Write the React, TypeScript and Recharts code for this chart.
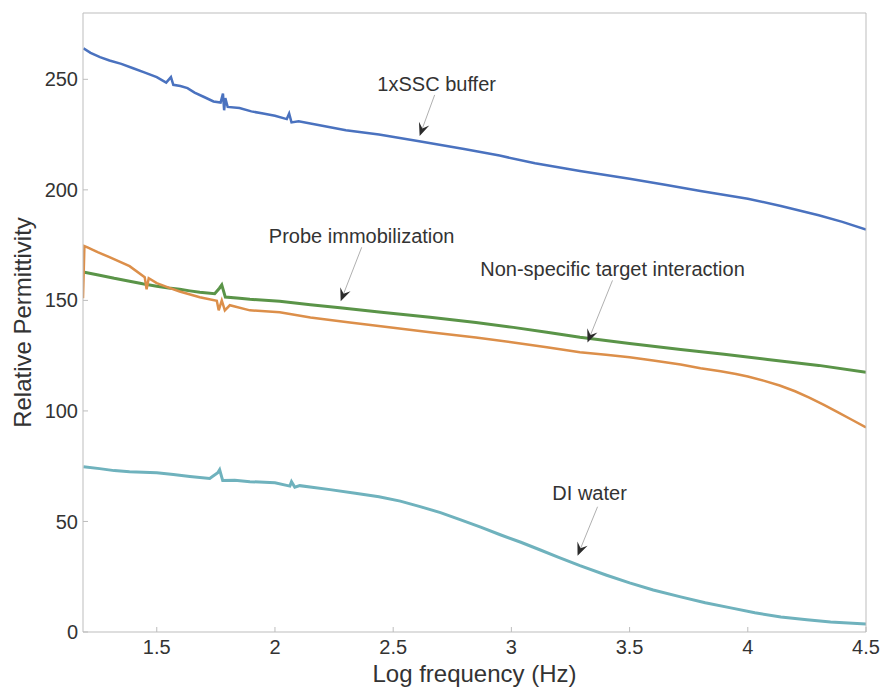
import { LineChart, Line, XAxis, YAxis, ReferenceDot } from "recharts";

// axis ticks
const xTicks = [1.5, 2, 2.5, 3, 3.5, 4, 4.5];
const yTicks = [0, 50, 100, 150, 200, 250];

// [log frequency, relative permittivity]
const sscBuffer: [number, number][] = [
  [1.19, 264], [1.22, 262], [1.26, 260], [1.3, 258.5], [1.35, 257], [1.4, 255],
  [1.45, 253], [1.5, 251], [1.54, 248.5], [1.56, 251], [1.57, 247.5], [1.6, 247],
  [1.63, 246], [1.66, 244], [1.7, 242], [1.74, 240], [1.77, 239.5], [1.78, 243.5],
  [1.785, 236], [1.79, 241.5], [1.8, 237.5], [1.85, 237], [1.9, 235.5], [1.95, 234.5],
  [2.0, 233.5], [2.05, 232], [2.06, 234.5], [2.07, 230.5], [2.1, 231], [2.2, 229],
  [2.3, 227], [2.44, 225], [2.61, 222], [2.8, 218.5], [2.95, 215.5], [3.1, 212],
  [3.29, 208.5], [3.5, 205], [3.65, 202.3], [3.8, 199.5], [4.0, 196], [4.14, 192.7],
  [4.3, 188.5], [4.4, 185.5], [4.5, 182],
];

const probeImmob: [number, number][] = [
  [1.194, 162.7], [1.258, 161.4], [1.32, 160], [1.385, 158.7], [1.44, 157.5],
  [1.5, 156.4], [1.55, 155.6], [1.597, 155], [1.64, 154.3], [1.682, 153.7],
  [1.745, 153], [1.765, 155.5], [1.775, 157], [1.79, 151.5], [1.85, 151],
  [1.894, 150.5], [2.02, 149.6], [2.15, 148], [2.275, 146.7], [2.45, 144.6],
  [2.656, 142.4], [2.85, 140], [3.008, 137.8], [3.15, 135.6], [3.29, 133.3],
  [3.5, 130.5], [3.716, 127.8], [3.9, 125.6], [4.084, 123.3], [4.3, 120.6],
  [4.5, 117.5],
];

const nonSpecific: [number, number][] = [
  [1.188, 151], [1.194, 174.6], [1.207, 174], [1.25, 171.8], [1.3, 169.6],
  [1.385, 165.5], [1.449, 160.5], [1.457, 155], [1.466, 160], [1.5, 157.8],
  [1.55, 155.8], [1.597, 154], [1.682, 151.4], [1.754, 149.8], [1.762, 145.5],
  [1.775, 150], [1.788, 145.5], [1.809, 147.8], [1.894, 145.5], [2.02, 144.6],
  [2.15, 142.3], [2.317, 140], [2.5, 137.6], [2.656, 135.6], [2.85, 133.2],
  [3.008, 131], [3.15, 128.8], [3.29, 126.5], [3.4, 125.4], [3.5, 124.3],
  [3.6, 122.8], [3.716, 121], [3.8, 119.3], [3.885, 117.9], [3.95, 116.7],
  [4.0, 115.6], [4.07, 113.6], [4.135, 111.5], [4.2, 108.9], [4.26, 106],
  [4.32, 102.8], [4.38, 99.5], [4.44, 96], [4.5, 92.5],
];

const diWater: [number, number][] = [
  [1.19, 74.8], [1.258, 73.9], [1.32, 73], [1.385, 72.5], [1.5, 72], [1.57, 71.2],
  [1.64, 70.3], [1.724, 69.4], [1.758, 72], [1.766, 73.4], [1.779, 68.5],
  [1.83, 68.6], [1.894, 68], [2.0, 67.5], [2.063, 66], [2.07, 68], [2.084, 65.5],
  [2.105, 66.2], [2.233, 64.4], [2.34, 62.8], [2.44, 61.2], [2.53, 59.2],
  [2.614, 56.7], [2.7, 54], [2.783, 50.8], [2.87, 47.4], [2.953, 44], [3.04, 40.6],
  [3.12, 37.2], [3.2, 33.8], [3.29, 30], [3.4, 25.8], [3.5, 22.2], [3.6, 19],
  [3.716, 15.9], [3.82, 13.2], [3.928, 10.9], [4.03, 8.7], [4.14, 6.8],
  [4.25, 5.5], [4.35, 4.5], [4.5, 3.6],
];

const series = [
  { name: "1xSSC buffer", data: sscBuffer, color: "#4a72bf", width: 2.5 },
  { name: "Probe immobilization", data: probeImmob, color: "#5a9448", width: 3 },
  { name: "Non-specific target interaction", data: nonSpecific, color: "#dc8f4a", width: 2.5 },
  { name: "DI water", data: diWater, color: "#6fb2bd", width: 3 },
];

// arrow tips in data units; text / tail offsets in pixels from the tip
const notes = [
  { x: 2.612, y: 224.4, text: "1xSSC buffer", tx: 17, ty: -52, lx: 15, ly: -41 },
  { x: 2.278, y: 149.6, text: "Probe immobilization", tx: 21, ty: -65, lx: 21, ly: -54 },
  { x: 3.322, y: 131, text: "Non-specific target interaction", tx: 25, ty: -73, lx: 25, ly: -62 },
  { x: 3.28, y: 34.5, text: "DI water", tx: 12, ty: -63, lx: 20, ly: -49 },
];

const FONT = "'Liberation Sans', Arial, Helvetica, sans-serif";
const FRAME = "#bdbdbd";

const toPoints = (arr: [number, number][]) => arr.map(([x, y]) => ({ x, y }));

function Callout({ cx, cy, note }: any) {
  const sx = cx + note.lx;
  const sy = cy + note.ly;
  const ang = Math.atan2(cy - sy, cx - sx);
  const ux = Math.cos(ang);
  const uy = Math.sin(ang);
  const px = -uy;
  const py = ux;
  const len = 13;
  const half = 5.5;
  const notch = 8;
  const bx = cx - ux * len;
  const by = cy - uy * len;
  const nx = cx - ux * notch;
  const ny = cy - uy * notch;
  const pts = [
    [cx, cy],
    [bx + px * half, by + py * half],
    [nx, ny],
    [bx - px * half, by - py * half],
  ]
    .map((p) => p.join(","))
    .join(" ");
  return (
    <g>
      <line x1={sx} y1={sy} x2={nx} y2={ny} stroke="#b0b0b0" strokeWidth={1} />
      <polygon points={pts} fill="#2b2b2b" />
      <text
        x={cx + note.tx}
        y={cy + note.ty}
        textAnchor="middle"
        dominantBaseline="central"
        fontSize={20}
        fontFamily={FONT}
        fill="#333"
      >
        {note.text}
      </text>
    </g>
  );
}

export default function App() {
  const tickStyle = { fontSize: 20, fill: "#333", fontFamily: FONT };
  return (
    <div style={{ position: "absolute", left: 0, top: 0, background: "#fff" }}>
      <LineChart width={885} height={688} margin={{ top: 12, right: 18, bottom: 0, left: 0 }}>
        <XAxis
          type="number"
          dataKey="x"
          domain={[1.188, 4.5]}
          ticks={xTicks}
          allowDataOverflow
          height={56}
          tick={tickStyle}
          tickSize={-5}
          tickMargin={13}
          axisLine={{ stroke: FRAME }}
          tickLine={{ stroke: FRAME }}
          label={{
            value: "Log frequency (Hz)",
            position: "insideBottom",
            offset: 6,
            fontSize: 24,
            fill: "#333",
            fontFamily: FONT,
          }}
        />
        <XAxis
          xAxisId="top"
          orientation="top"
          type="number"
          dataKey="x"
          domain={[1.188, 4.5]}
          ticks={xTicks}
          allowDataOverflow
          height={1}
          tick={false}
          tickSize={-5}
          axisLine={{ stroke: FRAME }}
          tickLine={{ stroke: FRAME }}
        />
        <YAxis
          type="number"
          domain={[0, 280]}
          ticks={yTicks}
          allowDataOverflow
          width={83}
          tick={tickStyle}
          tickSize={-5}
          tickMargin={10}
          axisLine={{ stroke: FRAME }}
          tickLine={{ stroke: FRAME }}
          label={{
            content: (props: any) => {
              const vb = props.viewBox;
              const lx = vb.x + 22;
              const ly = vb.y + vb.height / 2;
              return (
                <text
                  x={lx}
                  y={ly}
                  transform={`rotate(-90, ${lx}, ${ly})`}
                  textAnchor="middle"
                  dominantBaseline="central"
                  fontSize={24}
                  fontFamily={FONT}
                  fill="#333"
                >
                  Relative Permittivity
                </text>
              );
            },
          }}
        />
        <YAxis
          yAxisId="right"
          orientation="right"
          type="number"
          domain={[0, 280]}
          ticks={yTicks}
          allowDataOverflow
          width={1}
          tick={false}
          tickSize={-5}
          axisLine={{ stroke: FRAME }}
          tickLine={{ stroke: FRAME }}
        />
        {series.map((s) => (
          <Line
            key={s.name}
            data={toPoints(s.data)}
            dataKey="y"
            name={s.name}
            type="linear"
            stroke={s.color}
            strokeWidth={s.width}
            dot={false}
            activeDot={false}
            isAnimationActive={false}
          />
        ))}
        {notes.map((n) => (
          <ReferenceDot
            key={n.text}
            x={n.x}
            y={n.y}
            r={0}
            ifOverflow="visible"
            shape={(p: any) => <Callout cx={p.cx} cy={p.cy} note={n} />}
          />
        ))}
      </LineChart>
    </div>
  );
}
